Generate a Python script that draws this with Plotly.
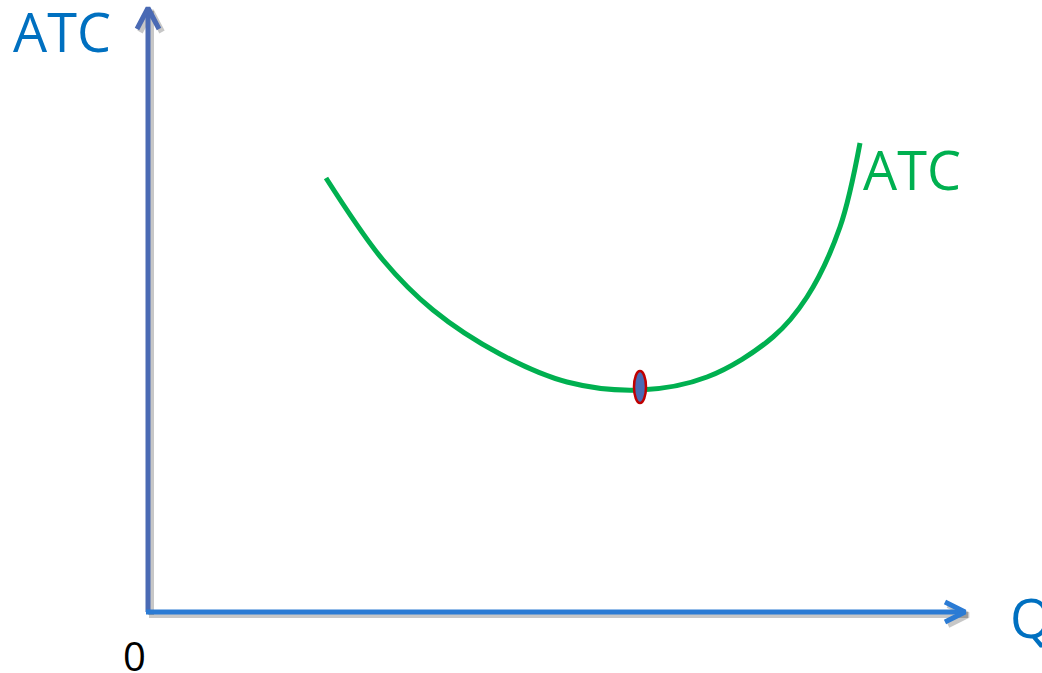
import plotly.graph_objects as go

# ATC curve (Q, ATC in arbitrary units)
q = [17.8, 23.5, 28.5, 35.2, 41.9, 49.2, 55.9, 62.5, 65.9, 69.2, 71.2]
atc = [43.4, 35.2, 30.2, 25.8, 23.0, 22.2, 23.5, 27.5, 31.5, 38.5, 46.9]

x_range = [-14.8, 89.4]
y_range = [-6.1, 61.2]
x_end = 81.7   # tip of the Q arrow
y_end = 60.4   # tip of the ATC arrow

AZUL_Y = '#4a6ab4'
AZUL_X = '#2b7bd4'
AZUL_TXT = '#0070c0'
VERDE = '#00b050'
SOMBRA = 'rgba(0,0,0,0.22)'
FONTE = 'Open Sans'

fig = go.Figure()


def seta(x, y, cor, sombra=False):
    fig.add_trace(go.Scatter(x=x, y=y, mode='lines', hoverinfo='skip',
                             line=dict(color=SOMBRA if sombra else cor, width=6 if sombra else 5)))


# shadows first, then the axes
for sombra in (True, False):
    d = 0.3 if sombra else 0
    seta([0 + d, 0 + d], [0 - d, y_end - d], AZUL_Y, sombra)
    seta([-1.1 + d, 0 + d, 1.1 + d], [y_end - 2.1 - d, y_end - d, y_end - 2.1 - d], AZUL_Y, sombra)
    seta([-0.2 + d, x_end + d], [0 - d, 0 - d], AZUL_X, sombra)
    seta([x_end - 2.0 + d, x_end + d, x_end - 2.0 + d], [1.0 - d, 0 - d, -1.0 - d], AZUL_X, sombra)

fig.add_trace(go.Scatter(x=q, y=atc, mode='lines', line=dict(color=VERDE, width=5, shape='spline'),
                         hoverinfo='skip'))

# minimum point of ATC drawn as a small ellipse
i_min = atc.index(min(atc))
qm, am = q[i_min], atc[i_min] + 0.3
fig.add_shape(type='circle', xref='x', yref='y', x0=qm - 0.6, x1=qm + 0.6, y0=am - 1.6, y1=am + 1.6,
              fillcolor=AZUL_Y, line=dict(color='#c00000', width=2.5))

fig.add_annotation(x=-13.7, y=58.15, text='ATC', showarrow=False, xanchor='left', yanchor='middle',
                   font=dict(family=FONTE, size=54, color=AZUL_TXT))
fig.add_annotation(x=71.3, y=44.3, text='ATC', showarrow=False, xanchor='left', yanchor='middle',
                   font=dict(family=FONTE, size=54, color=VERDE))
fig.add_annotation(x=86.0, y=-0.5, text='Q', showarrow=False, xanchor='left', yanchor='middle',
                   font=dict(family=FONTE, size=54, color=AZUL_TXT))
fig.add_annotation(x=-1.4, y=-4.3, text='0', showarrow=False, xanchor='center', yanchor='middle',
                   font=dict(family=FONTE, size=40, color='black'))

fig.update_layout(
    width=1042,
    height=673,
    margin=dict(l=0, r=0, t=0, b=0),
    showlegend=False,
    plot_bgcolor='white',
    paper_bgcolor='white',
)
fig.update_xaxes(range=x_range, visible=False)
fig.update_yaxes(range=y_range, visible=False)

# drop the browser's default body margin so the figure starts at the page corner
fig.write_html('out.html', config={'displayModeBar': False},
               post_script="document.body.style.margin = '0';")
